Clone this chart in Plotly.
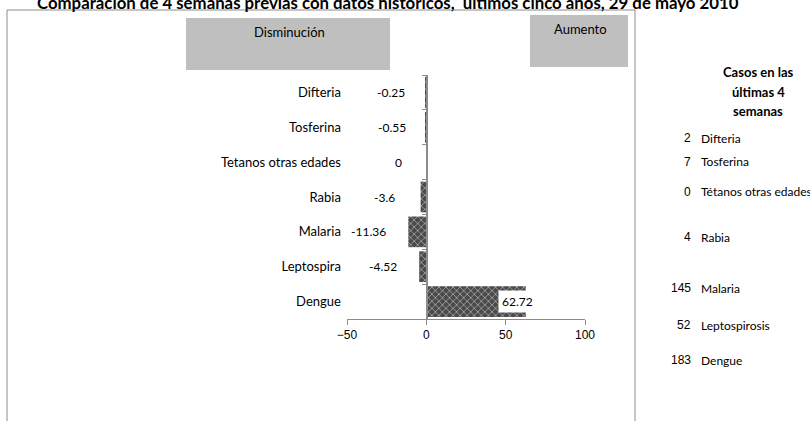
import plotly.graph_objects as go

# ---- data ----
diseases = ["Difteria", "Tosferina", "Tetanos otras edades", "Rabia", "Malaria", "Leptospira", "Dengue"]
change = [-0.25, -0.55, 0, -3.6, -11.36, -4.52, 62.72]
change_labels = ["-0.25", "-0.55", "0", "-3.6", "-11.36", "-4.52", "62.72"]
case_names = ["Difteria", "Tosferina", "Tétanos otras edades", "Rabia", "Malaria", "Leptospirosis", "Dengue"]
cases = [2, 7, 0, 4, 145, 52, 183]
x_ticks = [-50, 0, 50, 100]

title = "Comparación de 4 semanas previas con datos históricos,  últimos cinco años, 29 de mayo 2010"

# ---- layout helpers (positions only) ----
W, H = 810, 421
def px(x): return x / W
def py(y): return 1 - y / H

label_shift_px = [-35, -33, -28, -36, -40, -36, -8]   # label offset from bar end, pixels
case_rows_y = [138, 162, 192, 237, 288, 325, 360]     # pixel rows of right-side list

FONT = "Lato, Open Sans, sans-serif"
NUMFONT = "Liberation Sans, Arial, sans-serif"

fig = go.Figure()
fig.add_trace(go.Bar(
    y=diseases, x=change, orientation="h",
    marker=dict(color="#4a4a4a",
                line=dict(width=0),
                pattern=dict(shape="x", fgcolor="#ffffff", bgcolor="#4a4a4a", size=5, solidity=0.3)),
    hoverinfo="skip", showlegend=False,
))

def ann(x, y, text, size, family=FONT, xanchor="center", xref="paper", yref="paper", **kw):
    d = dict(x=x, y=y, xref=xref, yref=yref, text=text, showarrow=False,
             xanchor=xanchor, yanchor="middle",
             font=dict(family=family, size=size, color="#000"))
    d.update(kw)
    return d

annotations = []
for d, v, lab, sh in zip(diseases, change, change_labels, label_shift_px):
    annotations.append(ann(v, d, lab, 12, xref="x", yref="y", xshift=sh,
                           bgcolor="white" if v > 0 else "rgba(0,0,0,0)", borderpad=3))

annotations.append(ann(px(388), py(2), "<b>" + title + "</b>", 16.8))
annotations.append(ann(px(289), py(32), "Disminución", 13))
annotations.append(ann(px(580), py(29), "Aumento", 13))
for txt, yy in zip(["Casos en las", "últimas 4", "semanas"], [72, 92, 111]):
    annotations.append(ann(px(758), py(yy), "<b>" + txt + "</b>", 13))
for n, c, yy in zip(case_names, cases, case_rows_y):
    annotations.append(ann(px(693), py(yy), str(c), 12, family=NUMFONT, xanchor="right"))
    annotations.append(ann(px(699), py(yy), n, 12, xanchor="left"))

shapes = [
    dict(type="rect", xref="paper", yref="paper", x0=px(7), x1=px(635), y0=-0.2, y1=py(10),
         line=dict(color="#8c8c8c", width=1), fillcolor="rgba(0,0,0,0)", layer="below"),
    dict(type="rect", xref="paper", yref="paper", x0=px(186), x1=px(390), y0=py(70), y1=py(18),
         line=dict(width=0), fillcolor="#bfbfbf", layer="below"),
    dict(type="rect", xref="paper", yref="paper", x0=px(530), x1=px(628), y0=py(67), y1=py(15),
         line=dict(width=0), fillcolor="#bfbfbf", layer="below"),
]

fig.update_layout(
    width=W, height=H, margin=dict(l=0, r=0, t=0, b=0, autoexpand=False),
    paper_bgcolor="white", plot_bgcolor="rgba(0,0,0,0)",
    bargap=0.12,
    annotations=annotations, shapes=shapes,
    xaxis=dict(domain=[px(347), px(585)], range=[-50, 100], tickvals=x_ticks, automargin=False,
               showgrid=False, zeroline=False, showline=True, linecolor="#8c8c8c", linewidth=1,
               ticks="outside", ticklen=5, tickcolor="#8c8c8c",
               tickfont=dict(family=NUMFONT, size=12, color="#000")),
    yaxis=dict(domain=[py(319), py(75)], autorange="reversed", type="category", automargin=False,
               anchor="free", position=px(426.5),
               showgrid=False, zeroline=False, showline=True, linecolor="#8c8c8c", linewidth=2,
               ticks="outside", ticklen=4, tickcolor="#8c8c8c", tickson="boundaries",
               ticklabelstandoff=82,
               tickfont=dict(family=FONT, size=13, color="#000")),
)

fig.write_html("out.html", config={"displayModeBar": False},
               post_script="document.body.style.margin='0';document.body.style.overflow='hidden';")
